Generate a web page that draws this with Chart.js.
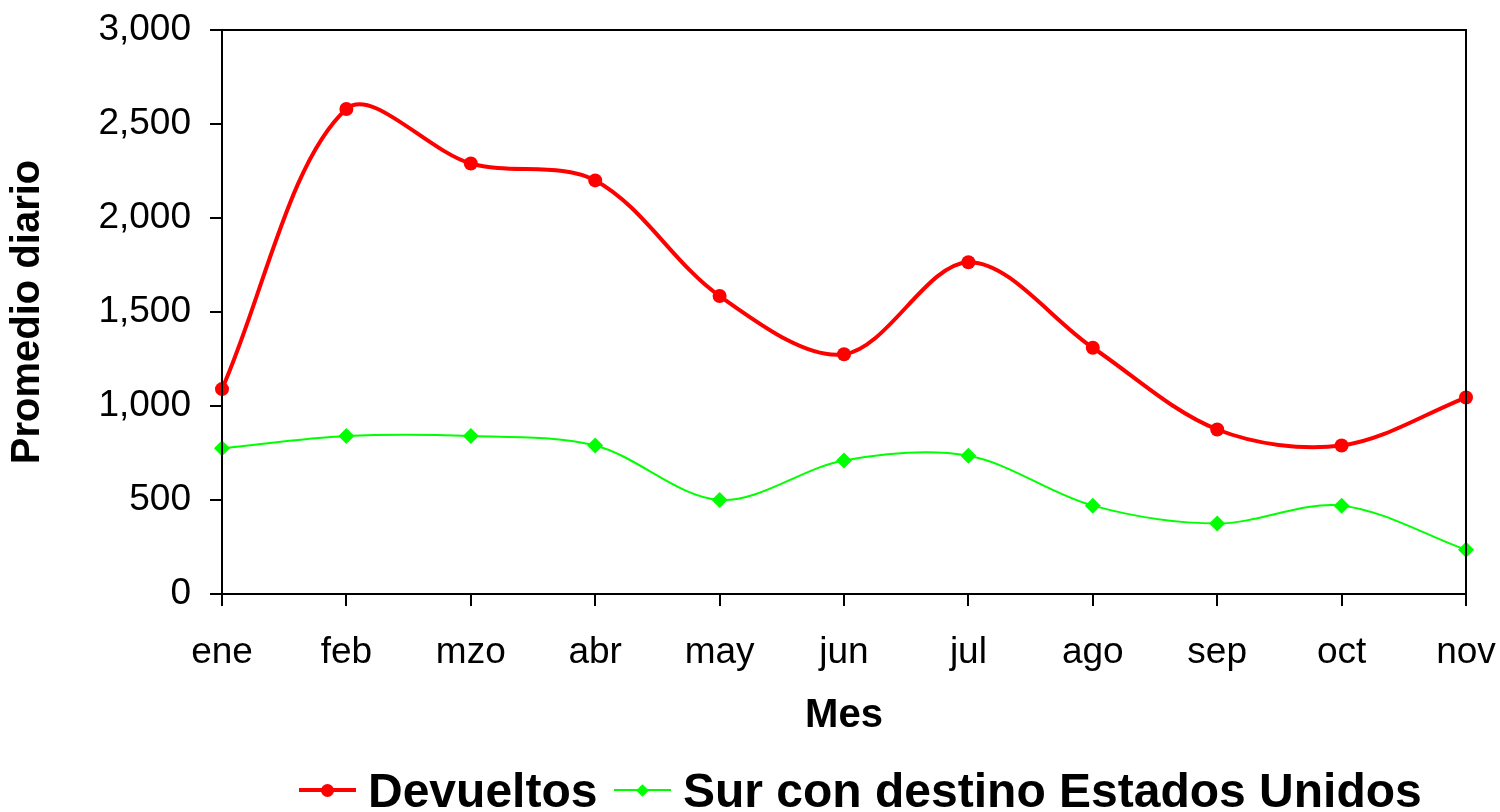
<!DOCTYPE html>
<html>
<head>
<meta charset="utf-8">
<script src="https://cdn.jsdelivr.net/npm/chart.js@4"></script>
<style>
  html, body { margin: 0; padding: 0; background: #fff; overflow: hidden; }
  #wrap { position: relative; width: 1500px; height: 812px; overflow: hidden; }
  #legend {
    position: absolute; left: 0; top: 767px; width: 1500px; height: 48px;
    font-family: "Liberation Sans", Arial, sans-serif; font-weight: bold; font-size: 48px;
    color: #000;
  }
  .item { position: absolute; top: 0; white-space: nowrap; line-height: 48px; }
  .sw { display: inline-block; position: relative; width: 57px; height: 48px; vertical-align: top; margin-right: 12px; }
  .sw .ln { position: absolute; left: 0; right: 0; top: 23px; }
  .sw .mk { position: absolute; }
</style>
</head>
<body>
<div id="wrap">
  <canvas id="chart" width="1500" height="812"></canvas>
  <div id="legend"></div>
</div>
<script>
// meses
const months = ["ene", "feb", "mzo", "abr", "may", "jun", "jul", "ago", "sep", "oct", "nov"];

// promedio diario
const devueltos = [1090, 2580, 2290, 2200, 1585, 1275, 1765, 1310, 875, 790, 1045];
const surEEUU = [775, 840, 840, 790, 500, 710, 735, 470, 375, 470, 235];

const yTicks = [0, 500, 1000, 1500, 2000, 2500, 3000];

const fontName = "'Liberation Sans', Arial, sans-serif";

// marco del área de trazado (arriba y derecha)
const frame = {
  id: "frame",
  afterDraw(chart) {
    const a = chart.chartArea;
    const c = chart.ctx;
    c.save();
    c.strokeStyle = "#000";
    c.lineWidth = 2;
    c.strokeRect(a.left, a.top, a.right - a.left, a.bottom - a.top);
    c.restore();
  }
};

new Chart(document.getElementById("chart").getContext("2d"), {
  type: "line",
  data: {
    labels: months,
    datasets: [
      {
        label: "Devueltos",
        data: devueltos,
        borderColor: "#ff0000",
        backgroundColor: "#ff0000",
        borderWidth: 4,
        pointStyle: "circle",
        pointRadius: 7,
        pointBorderWidth: 0,
        tension: 0.33
      },
      {
        label: "Sur con destino Estados Unidos",
        data: surEEUU,
        borderColor: "#00ff00",
        backgroundColor: "#00ff00",
        borderWidth: 2,
        pointStyle: "rectRot",
        pointRadius: 8,
        pointBorderWidth: 0,
        tension: 0.33
      }
    ]
  },
  options: {
    responsive: false,
    animation: false,
    layout: { padding: { top: 30, right: 34, bottom: 68, left: 0 } },
    plugins: {
      legend: { display: false },
      tooltip: { enabled: false }
    },
    scales: {
      x: {
        offset: false,
        grid: { drawOnChartArea: false, tickLength: 12, color: "#000", lineWidth: 2 },
        border: { color: "#000", width: 2 },
        ticks: { color: "#000", font: { family: fontName, size: 37 }, padding: 25, maxRotation: 0 },
        title: { display: true, text: "Mes", color: "#000", font: { family: fontName, size: 40, weight: "bold" }, padding: { top: 4, bottom: 4 } },
        afterFit(scale) {
          scale.height = 150;
          scale.paddingLeft = 0;
          scale.paddingRight = 0;
        }
      },
      y: {
        min: 0,
        max: 3000,
        afterBuildTicks(scale) { scale.ticks = yTicks.map(v => ({ value: v })); },
        grid: { drawOnChartArea: false, tickLength: 12, color: "#000", lineWidth: 2 },
        border: { color: "#000", width: 2 },
        ticks: {
          color: "#000",
          font: { family: fontName, size: 37 },
          padding: 19,
          callback: v => v.toLocaleString("en-US")
        },
        title: { display: true, text: "Promedio diario", color: "#000", font: { family: fontName, size: 40, weight: "bold" }, padding: { top: 4, bottom: 0 } },
        afterFit(scale) {
          scale.width = 222;
          scale.paddingTop = 0;
          scale.paddingBottom = 0;
        }
      }
    }
  },
  plugins: [frame]
});

// leyenda
const legendItems = [
  { text: "Devueltos", color: "#ff0000", lw: 4, marker: "circle", left: 299 },
  { text: "Sur con destino Estados Unidos", color: "#00ff00", lw: 2, marker: "diamond", left: 614 }
];
const legendEl = document.getElementById("legend");
legendItems.forEach(it => {
  const item = document.createElement("div");
  item.className = "item";
  item.style.left = it.left + "px";
  const sw = document.createElement("span");
  sw.className = "sw";
  const ln = document.createElement("span");
  ln.className = "ln";
  ln.style.height = it.lw + "px";
  ln.style.marginTop = (-it.lw / 2) + "px";
  ln.style.background = it.color;
  const mk = document.createElement("span");
  mk.className = "mk";
  mk.style.background = it.color;
  if (it.marker === "circle") {
    mk.style.width = "13px"; mk.style.height = "13px"; mk.style.borderRadius = "50%";
    mk.style.left = "22px"; mk.style.top = "16.5px";
  } else {
    mk.style.width = "9px"; mk.style.height = "9px"; mk.style.transform = "rotate(45deg)";
    mk.style.left = "24px"; mk.style.top = "18.5px";
  }
  sw.appendChild(ln);
  sw.appendChild(mk);
  item.appendChild(sw);
  item.appendChild(document.createTextNode(it.text));
  legendEl.appendChild(item);
});
</script>
</body>
</html>
